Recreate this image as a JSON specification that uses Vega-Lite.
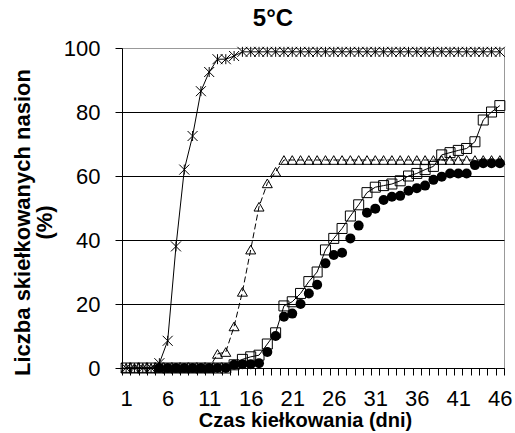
{
  "$schema": "https://vega.github.io/schema/vega-lite/v6.json",
  "width": 382,
  "height": 320,
  "autosize": {"type": "none"},
  "padding": {"left": 122, "top": 48, "right": 11, "bottom": 65},
  "background": "white",
  "config": {
    "font": "Liberation Sans",
    "view": {"stroke": "#999999", "strokeWidth": 1}
  },
  "title": {"text": "5°C", "fontSize": 24, "fontWeight": "bold", "color": "black", "anchor": "middle", "offset": 6, "dx": -40},
  "data": {
    "values": [
      {"day": 1, "X": 0, "T": 0, "S": 0, "C": null},
      {"day": 2, "X": 0, "T": 0, "S": 0, "C": null},
      {"day": 3, "X": 0, "T": 0, "S": 0, "C": null},
      {"day": 4, "X": 0, "T": 0, "S": 0, "C": null},
      {"day": 5, "X": 1.5, "T": 0, "S": 0, "C": 0},
      {"day": 6, "X": 8.5, "T": 0, "S": 0, "C": 0},
      {"day": 7, "X": 38, "T": 0, "S": 0, "C": 0},
      {"day": 8, "X": 62, "T": 0, "S": 0, "C": 0},
      {"day": 9, "X": 72.5, "T": 0, "S": 0, "C": 0},
      {"day": 10, "X": 86.5, "T": 0, "S": 0, "C": 0},
      {"day": 11, "X": 92.5, "T": 0, "S": 0, "C": 0},
      {"day": 12, "X": 96.5, "T": 4.4, "S": 0, "C": 0},
      {"day": 13, "X": 96.5, "T": 5, "S": 0, "C": 0},
      {"day": 14, "X": 97.5, "T": 13, "S": 1, "C": 1},
      {"day": 15, "X": 98.8, "T": 23.8, "S": 2.7, "C": 1.2},
      {"day": 16, "X": 98.8, "T": 37, "S": 3.5, "C": 1.2},
      {"day": 17, "X": 98.8, "T": 50.4, "S": 4, "C": 1.5},
      {"day": 18, "X": 98.8, "T": 57.7, "S": 7.5, "C": 5},
      {"day": 19, "X": 98.8, "T": 61.3, "S": 11, "C": 10},
      {"day": 20, "X": 98.8, "T": 65, "S": 19.4, "C": 16},
      {"day": 21, "X": 98.8, "T": 65, "S": 20.7, "C": 17},
      {"day": 22, "X": 98.8, "T": 65, "S": 23.3, "C": 20},
      {"day": 23, "X": 98.8, "T": 65, "S": 27, "C": 23.3},
      {"day": 24, "X": 98.8, "T": 65, "S": 30, "C": 26},
      {"day": 25, "X": 98.8, "T": 65, "S": 36.9, "C": 32.7},
      {"day": 26, "X": 98.8, "T": 65, "S": 40.5, "C": 35.3},
      {"day": 27, "X": 98.8, "T": 65, "S": 43.6, "C": 36},
      {"day": 28, "X": 98.8, "T": 65, "S": 47.5, "C": 40.5},
      {"day": 29, "X": 98.8, "T": 65, "S": 51, "C": 44.5},
      {"day": 30, "X": 98.8, "T": 65, "S": 54.8, "C": 48.5},
      {"day": 31, "X": 98.8, "T": 65, "S": 56.5, "C": 49.8},
      {"day": 32, "X": 98.8, "T": 65, "S": 57, "C": 52.5},
      {"day": 33, "X": 98.8, "T": 65, "S": 57.5, "C": 53.5},
      {"day": 34, "X": 98.8, "T": 65, "S": 58.5, "C": 53.8},
      {"day": 35, "X": 98.8, "T": 65, "S": 60, "C": 55.4},
      {"day": 36, "X": 98.8, "T": 65, "S": 60.8, "C": 56.2},
      {"day": 37, "X": 98.8, "T": 65, "S": 62, "C": 57},
      {"day": 38, "X": 98.8, "T": 65, "S": 63, "C": 58.8},
      {"day": 39, "X": 98.8, "T": 65, "S": 66.6, "C": 59.8},
      {"day": 40, "X": 98.8, "T": 65, "S": 67.3, "C": 60.8},
      {"day": 41, "X": 98.8, "T": 65, "S": 68, "C": 60.8},
      {"day": 42, "X": 98.8, "T": 65, "S": 68.6, "C": 60.8},
      {"day": 43, "X": 98.8, "T": 65, "S": 70.7, "C": 63.4},
      {"day": 44, "X": 98.8, "T": 65, "S": 77.5, "C": 64},
      {"day": 45, "X": 98.8, "T": 65, "S": 80, "C": 64},
      {"day": 46, "X": 98.8, "T": 65, "S": 82, "C": 64}
    ]
  },
  "layer": [
    {
      "mark": {"type": "line", "color": "black", "strokeWidth": 1},
      "encoding": {
        "x": {"field": "day", "type": "quantitative", "scale": {"domain": [0.5, 46.5], "nice": false, "zero": false},
          "axis": {"orient": "bottom", "values": [0.5,1.5,2.5,3.5,4.5,5.5,6.5,7.5,8.5,9.5,10.5,11.5,12.5,13.5,14.5,15.5,16.5,17.5,18.5,19.5,20.5,21.5,22.5,23.5,24.5,25.5,26.5,27.5,28.5,29.5,30.5,31.5,32.5,33.5,34.5,35.5,36.5,37.5,38.5,39.5,40.5,41.5,42.5,43.5,44.5,45.5,46.5],
            "labels": false, "grid": false, "tickSize": 7, "tickColor": "black", "tickWidth": 1, "domainColor": "black", "domainWidth": 1, "title": null}},
        "y": {"field": "S", "type": "quantitative", "scale": {"domain": [0, 100], "nice": false},
          "axis": {"orient": "left", "values": [0, 20, 40, 60, 80, 100], "grid": true,
            "gridColor": {"condition": {"test": "datum.value === 100", "value": "#999999"}, "value": "black"},
            "gridWidth": 1, "domainColor": "black", "tickColor": "black", "tickSize": 7,
            "labelFontSize": 22, "labelColor": "black", "labelPadding": 15,
            "title": ["Liczba skiełkowanych nasion", "(%)"], "titleFontSize": 22, "titleFontWeight": "bold", "titleColor": "black",
            "titleX": -100, "titleY": 174, "titleAngle": 270, "titleAlign": "center", "titleBaseline": "middle", "titleLineHeight": 22}}
      }
    },
    {
      "mark": {"type": "line", "color": "black", "strokeWidth": 1, "strokeDash": [6, 3]},
      "encoding": {
        "x": {"field": "day", "type": "quantitative",
          "axis": {"orient": "bottom", "values": [1, 6, 11, 16, 21, 26, 31, 36, 41, 46], "ticks": false, "domain": false, "grid": false, "labelFlush": false,
            "labelFontSize": 22, "labelColor": "black", "labelPadding": 37, "labelBaseline": "alphabetic",
            "title": "Czas kiełkowania (dni)", "titleFontSize": 20, "titleFontWeight": "bold", "titleColor": "black",
            "titleX": 183, "titleY": 58, "titleBaseline": "alphabetic"}},
        "y": {"field": "T", "type": "quantitative", "axis": null}
      }
    },
    {
      "mark": {"type": "line", "color": "black", "strokeWidth": 1},
      "encoding": {
        "x": {"field": "day", "type": "quantitative", "axis": null},
        "y": {"field": "X", "type": "quantitative", "axis": null}
      }
    },
    {
      "mark": {"type": "point", "shape": "square", "size": 100, "filled": false, "stroke": "black", "strokeWidth": 1, "opacity": 1},
      "encoding": {
        "x": {"field": "day", "type": "quantitative", "axis": null},
        "y": {"field": "S", "type": "quantitative", "axis": null}
      }
    },
    {
      "mark": {"type": "point", "shape": "triangle-up", "size": 100, "filled": false, "stroke": "black", "strokeWidth": 1, "opacity": 1},
      "encoding": {
        "x": {"field": "day", "type": "quantitative", "axis": null},
        "y": {"field": "T", "type": "quantitative", "axis": null}
      }
    },
    {
      "mark": {"type": "point", "shape": "M-1,-1L1,1M-1,1L1,-1M0,-1L0,1", "size": 100, "filled": false, "stroke": "black", "strokeWidth": 1, "opacity": 1},
      "encoding": {
        "x": {"field": "day", "type": "quantitative", "axis": null},
        "y": {"field": "X", "type": "quantitative", "axis": null}
      }
    },
    {
      "mark": {"type": "point", "shape": "circle", "size": 100, "filled": true, "color": "black", "opacity": 1},
      "encoding": {
        "x": {"field": "day", "type": "quantitative", "axis": null},
        "y": {"field": "C", "type": "quantitative", "axis": null}
      }
    }
  ],
  "resolve": {"axis": {"x": "independent", "y": "independent"}}
}
